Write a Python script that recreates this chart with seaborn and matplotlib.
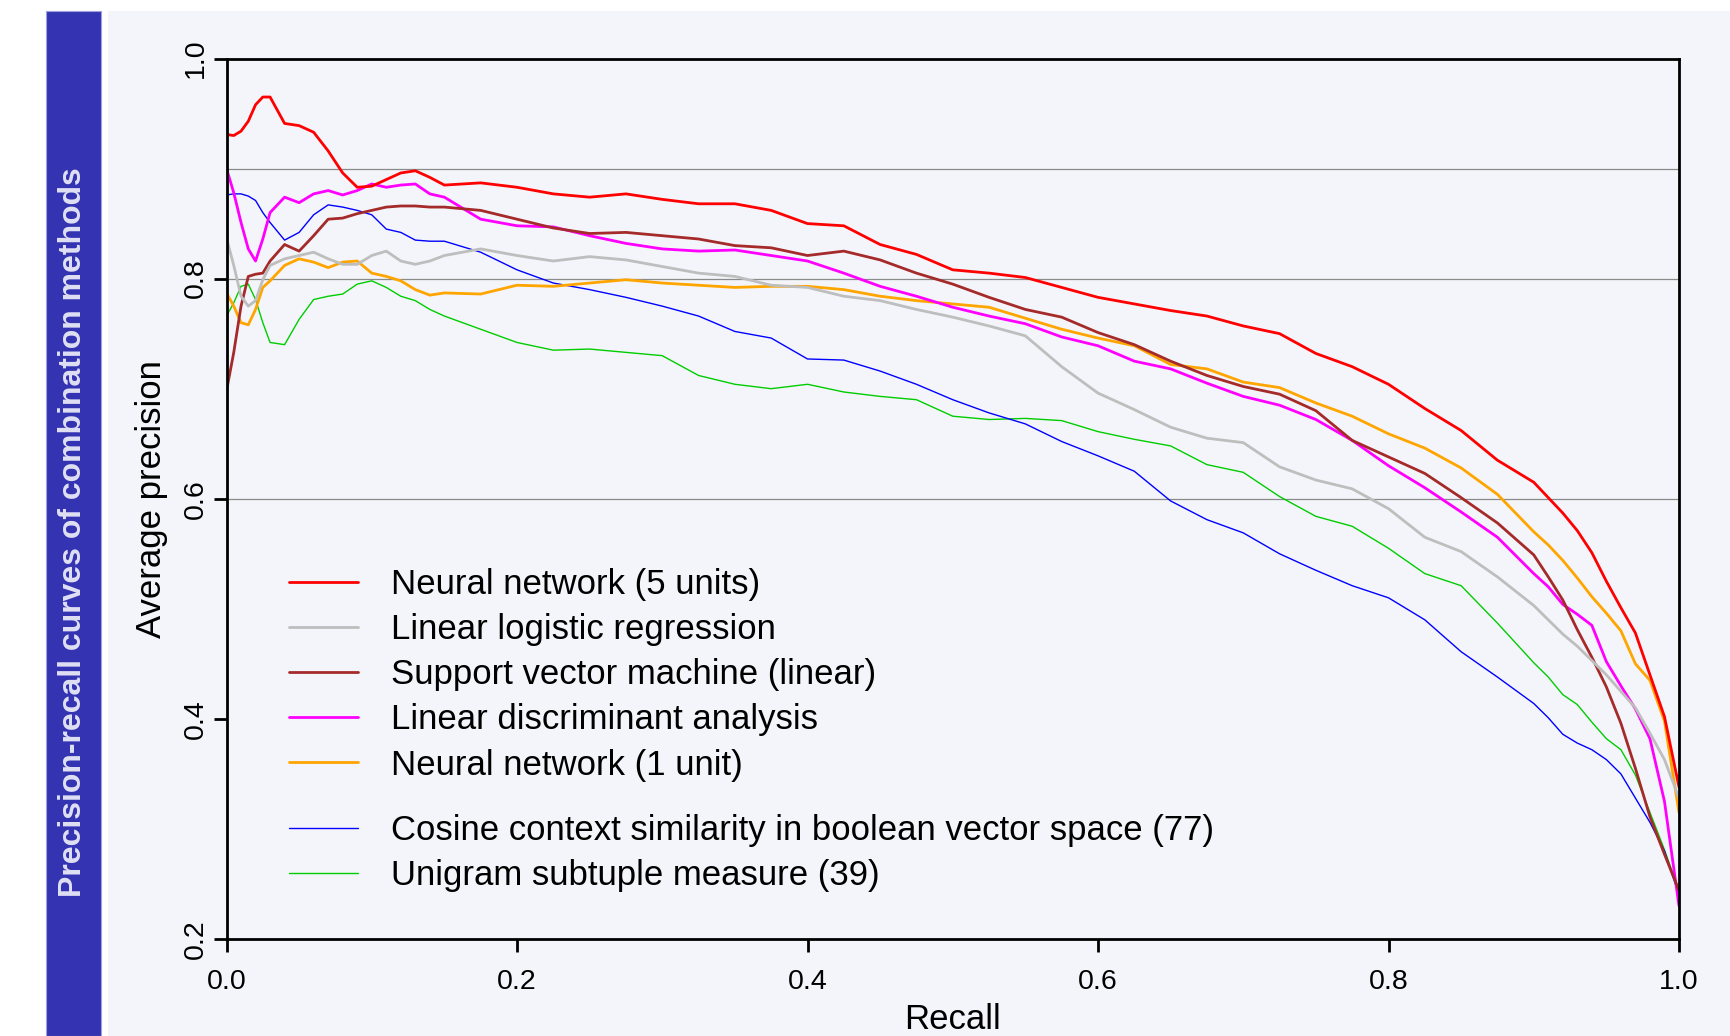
import numpy as np
import pandas as pd
import matplotlib
matplotlib.use('Agg')
import matplotlib.pyplot as plt
from matplotlib.patches import Rectangle
from matplotlib.lines import Line2D
import seaborn as sns

# recall grid (denser near 0 and near 1)
recall = [0.0, 0.005, 0.01, 0.015, 0.02, 0.025, 0.03, 0.04, 0.05, 0.06, 0.07, 0.08, 0.09,
          0.10, 0.11, 0.12, 0.13, 0.14, 0.15, 0.175, 0.20,
          0.225, 0.25, 0.275, 0.30, 0.325, 0.35, 0.375, 0.40, 0.425, 0.45, 0.475,
          0.50, 0.525, 0.55, 0.575, 0.60, 0.625, 0.65, 0.675, 0.70, 0.725,
          0.75, 0.775, 0.80, 0.825, 0.85, 0.875, 0.90,
          0.91, 0.92, 0.93, 0.94, 0.95, 0.96, 0.97, 0.98, 0.99, 1.0]

nn5 = [.931, .930, .934, .943, .958, .965, .965, .941, .939, .933, .916, .896, .883,
       .884, .890, .896, .898, .892, .885, .887, .883,
       .877, .874, .877, .872, .868, .868, .862, .850, .848, .831, .822,
       .808, .805, .801, .792, .783, .777, .771, .766, .757, .750,
       .732, .720, .704, .682, .662, .635, .615,
       .601, .587, .571, .551, .525, .501, .478, .440, .402, .338]

llr = [.837, .812, .784, .775, .780, .799, .812, .818, .821, .824, .818, .813, .813,
       .821, .825, .816, .813, .816, .821, .827, .821,
       .816, .820, .817, .811, .805, .802, .794, .792, .784, .780, .772,
       .765, .757, .748, .720, .696, .681, .665, .655, .651, .629,
       .617, .609, .591, .565, .552, .529, .503,
       .490, .477, .466, .453, .440, .425, .410, .387, .363, .328]

svm = [.698, .733, .775, .802, .804, .805, .816, .831, .825, .839, .854, .855, .859,
       .862, .865, .866, .866, .865, .865, .862, .854,
       .846, .841, .842, .839, .836, .830, .828, .821, .825, .817, .805,
       .795, .783, .772, .765, .751, .740, .725, .712, .702, .695,
       .680, .653, .638, .623, .601, .578, .549,
       .529, .508, .481, .456, .429, .396, .355, .311, .277, .244]

lda = [.900, .878, .851, .827, .816, .836, .860, .874, .869, .877, .880, .876, .880,
       .886, .883, .885, .886, .877, .874, .854, .848,
       .847, .839, .832, .827, .825, .826, .821, .816, .805, .793, .784,
       .774, .766, .759, .747, .739, .725, .718, .705, .693, .685,
       .672, .653, .630, .610, .588, .565, .532,
       .520, .504, .495, .485, .452, .430, .409, .382, .325, .230]

nn1 = [.787, .775, .760, .758, .772, .792, .798, .812, .818, .815, .810, .815, .816,
       .805, .802, .798, .790, .785, .787, .786, .794,
       .793, .796, .799, .796, .794, .792, .793, .793, .790, .784, .780,
       .777, .774, .764, .754, .746, .739, .722, .718, .706, .701,
       .687, .675, .659, .646, .628, .604, .570,
       .558, .544, .528, .511, .496, .480, .450, .435, .398, .315]

cosine = [.876, .877, .877, .875, .871, .860, .851, .835, .842, .858, .867, .865, .862,
          .858, .845, .842, .835, .834, .834, .824, .808,
          .796, .790, .783, .775, .766, .752, .746, .727, .726, .716, .704,
          .690, .678, .668, .652, .639, .625, .598, .581, .569, .550,
          .535, .521, .510, .490, .461, .438, .414,
          .401, .386, .378, .372, .363, .350, .328, .306, .280, .240]

unigram = [.766, .778, .793, .795, .781, .760, .742, .740, .763, .781, .784, .786, .795,
           .798, .792, .784, .780, .772, .766, .754, .742,
           .735, .736, .733, .730, .712, .704, .700, .704, .697, .693, .690,
           .675, .672, .673, .671, .661, .654, .648, .631, .624, .602,
           .584, .575, .555, .532, .521, .487, .451,
           .438, .422, .413, .397, .382, .372, .349, .315, .281, .244]

names = ['Neural network (5 units)', 'Linear logistic regression',
         'Support vector machine (linear)', 'Linear discriminant analysis',
         'Neural network (1 unit)',
         'Cosine context similarity in boolean vector space (77)',
         'Unigram subtuple measure (39)']
colors = ['#ff0000', '#bebebe', '#a52a2a', '#ff00ff', '#ffa500', '#0000ff', '#00cd00']
widths = [2.0, 2.0, 2.0, 2.0, 2.0, 1.0, 1.0]

curves = [nn5, llr, svm, lda, nn1, cosine, unigram]
df = pd.DataFrame({
    'recall': recall * len(curves),
    'precision': np.concatenate(curves),
    'method': np.repeat(names, len(recall)),
})

sns.set_style('white')
plt.rcParams['font.family'] = ['Liberation Sans', 'DejaVu Sans']
plt.rcParams['text.color'] = 'black'
plt.rcParams['axes.labelcolor'] = 'black'
plt.rcParams['lines.solid_joinstyle'] = 'round'

W, H = 1730, 1036
fig = plt.figure(figsize=(W / 100, H / 100), dpi=100)
fig.patch.set_facecolor('white')

# light panel and blue title bar
fig.add_artist(Rectangle((108 / W, 0), 1 - 108 / W, 1 - 11 / H, transform=fig.transFigure,
                         facecolor='#f4f5fa', edgecolor='none', zorder=0))
fig.add_artist(Rectangle((46 / W, 0), 55 / W, 1 - 11 / H, transform=fig.transFigure,
                         facecolor='#3434b2', edgecolor='#a0a0dc', lw=0.8, zorder=0))
fig.text(73.5 / W, 0.4865, 'Precision-recall curves of combination methods', rotation=90,
         ha='center', va='center', color='#e0e0f4', fontsize=23, fontweight='bold')

ax = fig.add_axes([226.5 / W, 1 - 939 / H, 1452.5 / W, 880.5 / H])
ax.set_facecolor('none')

for v in [0.6, 0.8, 0.9]:
    ax.axhline(v, color='#8a8a8a', lw=0.9, zorder=0.5)

sns.lineplot(data=df, x='recall', y='precision', hue='method', size='method',
             palette=dict(zip(names, colors)), sizes=dict(zip(names, widths)),
             hue_order=names[::-1], legend=False, ax=ax)

ax.set_xlim(0, 1)
ax.set_ylim(0.2, 1.0)
ax.set_xticks([0, 0.2, 0.4, 0.6, 0.8, 1.0])
ax.set_xticklabels(['0.0', '0.2', '0.4', '0.6', '0.8', '1.0'])
ax.set_yticks([0.2, 0.4, 0.6, 0.8, 1.0])
ax.set_yticklabels(['0.2', '0.4', '0.6', '0.8', '1.0'])
ax.tick_params(bottom=True, left=True, direction='out', length=9.5, width=2,
               colors='black', labelsize=20.5)
ax.tick_params(axis='x', pad=12)
ax.tick_params(axis='y', pad=3, labelrotation=90)
for t in ax.get_yticklabels():
    t.set_va('center')
for s in ax.spines.values():
    s.set_color('black')
    s.set_linewidth(2)

ax.set_xlabel('Recall', fontsize=25)
ax.xaxis.set_label_coords(0.5, -0.073)
ax.set_ylabel('Average precision', fontsize=25)
ax.yaxis.set_label_coords(-0.04, 0.5)

handles = [Line2D([], [], color=c, lw=w) for c, w in zip(colors, widths)]
leg_kw = dict(loc='upper left', bbox_transform=fig.transFigure, frameon=False, fontsize=25,
              handlelength=2.0, handletextpad=0.95, labelspacing=0.35,
              borderpad=0, borderaxespad=0)
leg1 = ax.legend(handles[:5], names[:5], bbox_to_anchor=(289 / W, 1 - 568 / H), **leg_kw)
ax.add_artist(leg1)
ax.legend(handles[5:], names[5:], bbox_to_anchor=(289 / W, 1 - 814 / H), **leg_kw)

fig.savefig('out.png', dpi=100)
